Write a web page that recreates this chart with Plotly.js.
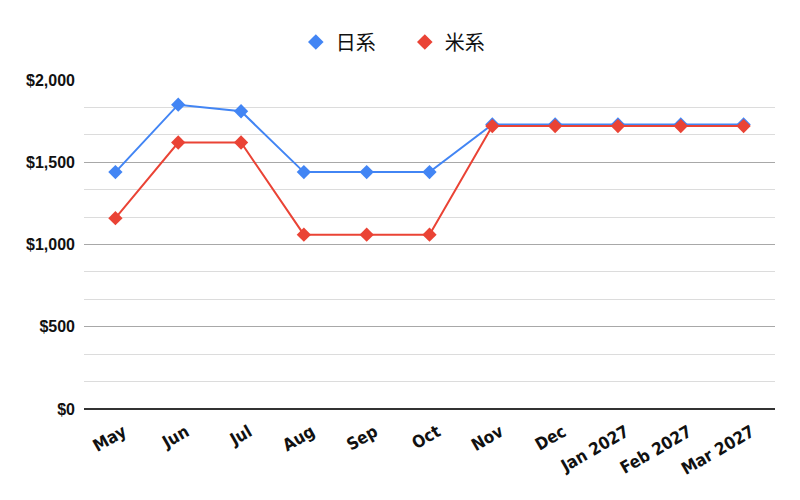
<!DOCTYPE html>
<html>
<head>
<meta charset="utf-8">
<script src="https://cdn.plot.ly/plotly-3.0.1.min.js"></script>
<style>
  html, body { margin: 0; padding: 0; background: #fff; }
  #chart { width: 800px; height: 500px; }
</style>
</head>
<body>
<div id="chart"></div>
<script>
const months = ['May', 'Jun', 'Jul', 'Aug', 'Sep', 'Oct', 'Nov', 'Dec', 'Jan 2027', 'Feb 2027', 'Mar 2027'];
const nikkei = [1440, 1850, 1810, 1440, 1440, 1440, 1730, 1730, 1730, 1730, 1730];
const beikei = [1160, 1620, 1620, 1060, 1060, 1060, 1720, 1720, 1720, 1720, 1720];
const seriesNames = ['日系', '米系'];
const yTicks = [0, 500, 1000, 1500, 2000];
const yTickText = ['$0', '$500', '$1,000', '$1,500', '$2,000'];

const colors = ['#4285f4', '#ea4335'];

// lines are drawn without legend entries; legend shows only the diamond
const traces = [nikkei, beikei].map((vals, i) => ({
    x: months,
    y: vals,
    name: seriesNames[i],
    type: 'scatter',
    mode: 'lines+markers',
    showlegend: false,
    line: { color: colors[i], width: 2 },
    marker: { color: colors[i], size: 11, symbol: 'diamond' }
}));

const legendTraces = seriesNames.map((name, i) => ({
    x: [null],
    y: [null],
    name: name,
    type: 'scatter',
    mode: 'markers',
    marker: { color: colors[i], size: 12, symbol: 'diamond' }
}));

const layout = {
    width: 800,
    height: 500,
    plot_bgcolor: '#fff',
    paper_bgcolor: '#fff',
    margin: { l: 84, r: 25, t: 80, b: 91 },
    showlegend: true,
    legend: {
        orientation: 'h',
        x: 0.506,
        xref: 'container',
        xanchor: 'center',
        y: 0.916,
        yref: 'container',
        yanchor: 'middle',
        font: { family: '"Noto Sans CJK JP", sans-serif', size: 20, color: '#111' },
        itemwidth: 30,
        entrywidth: 64
    },
    xaxis: {
        type: 'category',
        range: [-0.5, 10.5],
        tickangle: -30,
        showgrid: false,
        zeroline: false,
        ticks: '',
        ticklabelstandoff: 9,
        ticklabelshift: 8,
        tickfont: { family: '"DejaVu Sans Condensed", "DejaVu Sans", sans-serif', size: 17, color: '#111', weight: 'bold' },
        automargin: false
    },
    yaxis: {
        range: [0, 2000],
        tickvals: yTicks,
        ticktext: yTickText,
        showgrid: true,
        gridcolor: '#a8a8a8',
        gridwidth: 1,
        zeroline: true,
        zerolinecolor: '#333',
        zerolinewidth: 1.5,
        ticks: '',
        ticklabelstandoff: 8,
        tickfont: { family: '"Liberation Sans", Arial, sans-serif', size: 16, color: '#111', weight: 'bold' },
        minor: { dtick: 500 / 3, showgrid: true, gridcolor: '#dcdcdc', gridwidth: 1 },
        automargin: false
    }
};

Plotly.newPlot('chart', traces.concat(legendTraces), layout, { displayModeBar: false, staticPlot: true });
</script>
</body>
</html>
